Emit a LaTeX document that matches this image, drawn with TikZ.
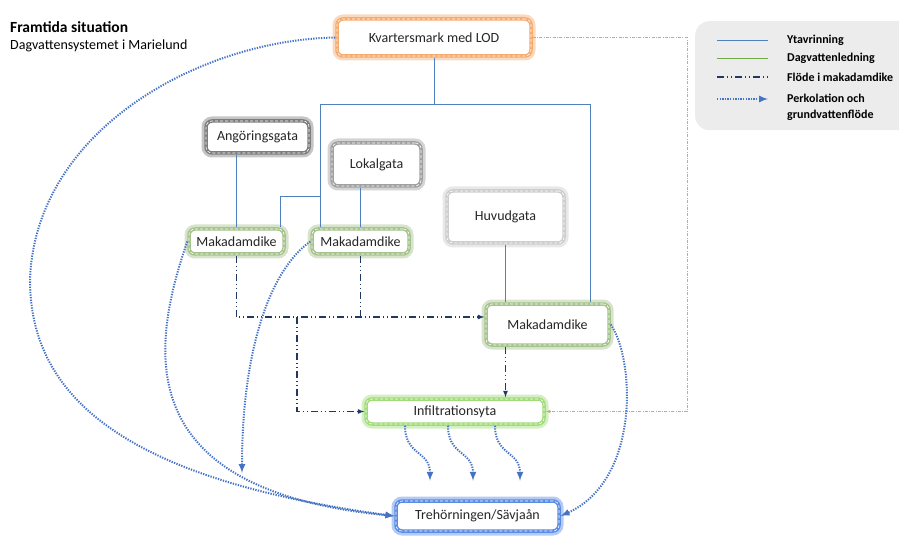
\documentclass[tikz,border=0pt]{standalone}
\usepackage{fontspec}
\setmainfont{Carlito}
\usepackage{tikz}
\usetikzlibrary{arrows}
\definecolor{kcol}{RGB}{245,170,110}
\definecolor{dgray}{RGB}{125,125,125}
\definecolor{mgray}{RGB}{160,160,160}
\definecolor{lgray}{RGB}{205,205,205}
\definecolor{mgreen}{RGB}{165,195,140}
\definecolor{igreen}{RGB}{160,220,120}
\definecolor{tblue}{RGB}{90,140,230}
\definecolor{ycol}{RGB}{79,129,189}
\definecolor{gcol}{RGB}{112,173,71}
\definecolor{fcol}{RGB}{31,56,100}
\definecolor{pcol}{RGB}{68,114,196}
\definecolor{lodcol}{RGB}{195,175,110}
\definecolor{legbg}{RGB}{236,236,236}
\tikzset{every picture/.append style={x=1pt,y=-1pt}}
\tikzset{box/.style={rounded corners=6pt, fill=white, draw=#1, line width=3.5pt, preaction={draw=#1!45, line width=9pt}, postaction={draw=white, line width=0.6pt, dash pattern=on 3pt off 2pt}, font=\fontsize{14}{16}\selectfont, text=black!85, inner sep=0pt}}
\tikzset{ytav/.style={line width=0.6pt, ycol}}
\tikzset{dagv/.style={line width=0.6pt, gcol}}
\tikzset{flode/.style={line width=1.2pt, fcol, dash pattern=on 7pt off 3pt on 1pt off 3pt on 1pt off 3pt}}
\tikzset{perk/.style={line width=2pt, pcol, dash pattern=on 1.3pt off 1.3pt, -latex}}
\tikzset{lod/.style={line width=0.6pt, lodcol, dash pattern=on 3pt off 1.5pt on 0.6pt off 1.5pt, -latex}}
\tikzset{legtxt/.style={anchor=west, inner sep=0pt, font=\fontsize{12}{16}\selectfont\bfseries}}
\begin{document}
\begin{tikzpicture}
  \useasboundingbox (0,0) rectangle (899,537);
  \node (t1) at (10,33)[anchor=base west, inner sep=0pt, font=\fontsize{15.5}{18}\selectfont\bfseries]{Framtida situation};
  \node (t2) at (10,50)[anchor=base west, inner sep=0pt, font=\fontsize{14}{16}\selectfont]{Dagvattensystemet i Marielund};

  \node (leg) at (695,21)[anchor=north west, fill=legbg, rounded corners=14pt, minimum width=230, minimum height=109]{};
  \node (l1) at (787,40)[legtxt]{Ytavrinning};
  \node (l2) at (787,58)[legtxt]{Dagvattenledning};
  \node (l3) at (787,77)[legtxt]{Flöde i makadamdike};
  \node (l4) at (787,107)[legtxt, align=left]{Perkolation och\\grundvattenflöde};
  \draw[ytav] ([xshift=-70]l1.west) -- ([xshift=-19]l1.west);
  \draw[dagv] ([xshift=-70]l2.west) -- ([xshift=-19]l2.west);
  \draw[flode] ([xshift=-70]l3.west) -- ([xshift=-19]l3.west);
  \draw[perk] ([xshift=-70,yshift=8]l4.west) -- ([xshift=-19,yshift=8]l4.west);

  \node (k) at (434,37.5)[box=kcol, minimum width=194, minimum height=37]{Kvartersmark med LOD};
  \node (a) at (257.5,137)[box=dgray, minimum width=103, minimum height=32]{Angöringsgata};
  \node (l) at (376.5,164.5)[box=mgray, minimum width=89, minimum height=43]{Lokalgata};
  \node (h) at (505.5,217)[box=lgray, minimum width=117, minimum height=52]{Huvudgata};
  \node (m1) at (236.5,241.5)[box=mgreen, minimum width=95, minimum height=25]{Makadamdike};
  \node (m2) at (360.5,241.5)[box=mgreen, minimum width=97, minimum height=25]{Makadamdike};
  \node (m3) at (547.5,324.5)[box=mgreen, minimum width=123, minimum height=41]{Makadamdike};
  \node (inf) at (455,411.5)[box=igreen, minimum width=178, minimum height=25]{Infiltrationsyta};
  \node (tr) at (477.5,516)[box=tblue, minimum width=163, minimum height=30]{Trehörningen/Sävjaån};

  \coordinate (jl) at (320,104);
  \coordinate (jr) at (590,104);
  \coordinate (jb) at (280,196);
  \coordinate (fj) at (297,317);
  \coordinate (lc) at (687,411.5);
  \coordinate (pe) at (242,473);
  \coordinate (pw) at (30,280);

  \draw[ytav] (k.south) -- (k.south |- jl);
  \draw[ytav] (m3.north -| jr) -- (jr) -- (jl) -- (jl |- m2.north);
  \draw[ytav] (jl |- jb) -| (jb |- m1.north);
  \draw[ytav] (a.south -| m1.north) -- (m1.north);
  \draw[ytav] (l.south -| m2.north) -- (m2.north);
  \draw[ytav] (h.south) -- (h.south |- m3.north);

  \draw[flode, -latex] (m1.south) |- (m3.west |- fj);
  \draw[flode] (m2.south) -- (m2.south |- fj);
  \draw[flode, -latex] (fj) |- (inf.west);
  \draw[flode, -latex] (m3.south -| h.south) -- (h.south |- inf.north);

  \draw[lod] (k.east) -| (lc) -- (inf.east);

  \draw[perk] (k.west) .. controls (200,40) and (35,130) .. (pw) .. controls (30,400) and (130,480) .. (tr.west);
  \draw[perk] (m1.west) .. controls (150,350) and (130,490) .. (tr.west);
  \draw[perk] (m2.west) .. controls (270,270) and (242,350) .. (pe);
  \draw[perk] (m3.east) .. controls (635,360) and (640,480) .. (tr.east);
  \foreach \d in {-50,-7,40}
    \draw[perk] ([xshift=\d]inf.south) .. controls +(0,30) and +(0,-30) .. ([xshift=\d+25, yshift=-55]inf.south);
\end{tikzpicture}
\end{document}
